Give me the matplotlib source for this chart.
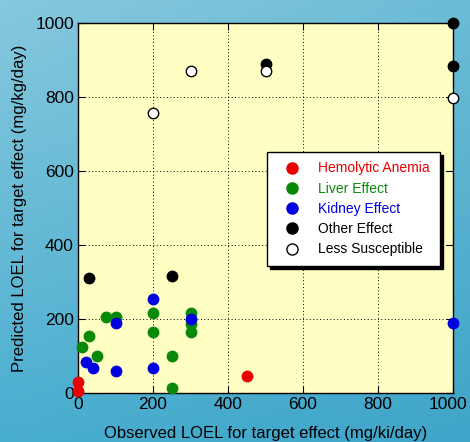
import numpy as np
import matplotlib.pyplot as plt
import matplotlib.transforms as mtransforms
from matplotlib.lines import Line2D

plt.rcParams['font.family'] = ['Liberation Sans', 'DejaVu Sans']

# data (observed LOEL, predicted LOEL)
hemo_x = [0, 0, 450]
hemo_y = [30, 5, 45]
liver_x = [10, 30, 50, 75, 100, 200, 200, 250, 250, 300, 300, 300]
liver_y = [125, 155, 100, 205, 205, 215, 165, 100, 12, 215, 185, 165]
kidney_x = [20, 40, 100, 100, 200, 200, 300, 1000]
kidney_y = [84, 68, 190, 58, 255, 68, 200, 188]
other_x = [30, 250, 500, 1000, 1000]
other_y = [310, 315, 888, 1000, 885]
less_x = [200, 300, 500, 1000]
less_y = [756, 870, 870, 797]

c_red = '#e80000'
c_green = '#088a08'
c_blue = '#0000e0'

fig = plt.figure(figsize=(4.7, 4.42), dpi=100)

# blue gradient background
bg = fig.add_axes([0, 0, 1, 1], zorder=-10)
tl = np.array([134, 200, 221]) / 255
tr = np.array([108, 188, 214]) / 255
bl = np.array([74, 174, 208]) / 255
br = np.array([63, 165, 200]) / 255
u = np.linspace(0, 1, 60)[None, :, None]
v = np.linspace(0, 1, 60)[:, None, None]
img = (1 - v) * ((1 - u) * tl + u * tr) + v * ((1 - u) * bl + u * br)
bg.imshow(img, aspect='auto', extent=[0, 1, 0, 1], interpolation='bilinear')
bg.axis('off')

ax = fig.add_axes([0.166, 0.111, 0.798, 0.837])
ax.set_facecolor('#ffffc4')

ms = 7.5
ax.plot(hemo_x, hemo_y, 'o', color=c_red, ms=ms, clip_on=False, zorder=3)
ax.plot(liver_x, liver_y, 'o', color=c_green, ms=ms, clip_on=False, zorder=3)
ax.plot(kidney_x, kidney_y, 'o', color=c_blue, ms=ms, clip_on=False, zorder=4)
ax.plot(other_x, other_y, 'o', color='black', ms=ms, clip_on=False, zorder=3)
ax.plot(less_x, less_y, 'o', mfc='white', mec='black', mew=1, ms=ms,
        clip_on=False, zorder=4)

ax.set_xlim(0, 1000)
ax.set_ylim(0, 1000)
ax.set_xticks(range(0, 1001, 200))
ax.set_yticks(range(0, 1001, 200))
ax.tick_params(direction='in', length=5, labelsize=12.5, top=True, right=True,
               pad=3)
ax.grid(True, color='black', linestyle=(0, (1, 2.5)), linewidth=0.7)
for s in ax.spines.values():
    s.set_linewidth(1)

# nudge the last x tick label so it stays inside the figure
last = ax.get_xticklabels()[-1]
last.set_transform(last.get_transform() +
                   mtransforms.ScaledTranslation(-5 / 100, 0, fig.dpi_scale_trans))

ax.set_xlabel('Observed LOEL for target effect (mg/ki/day)', fontsize=12,
              labelpad=10)
ax.set_ylabel('Predicted LOEL for target effect (mg/kg/day)', fontsize=12,
              labelpad=6)

handles = [
    Line2D([], [], marker='o', ls='', color=c_red, ms=8),
    Line2D([], [], marker='o', ls='', color=c_green, ms=8),
    Line2D([], [], marker='o', ls='', color=c_blue, ms=8),
    Line2D([], [], marker='o', ls='', color='black', ms=8),
    Line2D([], [], marker='o', ls='', mfc='white', mec='black', ms=8),
]
labels = ['Hemolytic Anemia', 'Liver Effect', 'Kidney Effect',
          'Other Effect', 'Less Susceptible']
leg = ax.legend(handles, labels, loc='upper left', bbox_to_anchor=(0.504, 0.652),
                borderaxespad=0, fontsize=10, fancybox=False, framealpha=1,
                edgecolor='black', shadow={'color': 'black', 'alpha': 1},
                borderpad=0.7, labelspacing=0.45, handletextpad=0.8,
                handlelength=2.2)
leg.get_frame().set_linewidth(1)
for t, c in zip(leg.get_texts(), [c_red, c_green, c_blue, 'black', 'black']):
    t.set_color(c)
leg.set_zorder(10)

fig.savefig('out.png', dpi=100)
